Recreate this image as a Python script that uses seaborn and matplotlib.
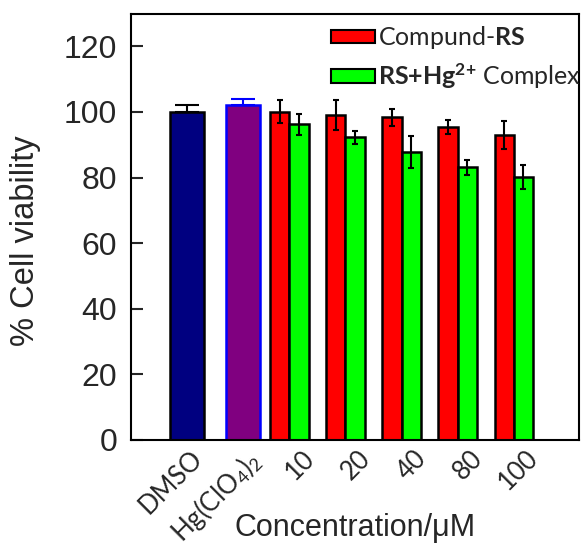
import matplotlib
matplotlib.use('Agg')
import matplotlib.pyplot as plt
from matplotlib.patches import Patch
import matplotlib.transforms as mtransforms
import numpy as np
import pandas as pd
import seaborn as sns

# data
categories = ['DMSO', 'Hg(ClO$_4$)$_2$', '10', '20', '40', '80', '100']
control_vals = [100.0, 102.2]
control_err = [2.0, 1.7]
rs_vals = [100.0, 99.0, 98.4, 95.4, 92.9]
rs_err = [3.5, 4.5, 2.6, 2.1, 4.3]
complex_vals = [96.2, 92.3, 87.8, 83.1, 80.1]
complex_err = [3.3, 2.0, 4.8, 2.2, 3.7]

sns.set_style('ticks')
plt.rcParams['font.family'] = ['Liberation Sans', 'DejaVu Sans']
plt.rcParams['mathtext.fontset'] = 'custom'
plt.rcParams['mathtext.rm'] = 'Lato'
plt.rcParams['mathtext.it'] = 'Lato:italic'
plt.rcParams['mathtext.bf'] = 'Lato:bold'

fig = plt.figure(figsize=(5.82, 5.43), dpi=100)
ax = fig.add_axes([0.225, 0.19, 0.77, 0.785])

pos = np.arange(len(categories))
bw = 0.34

# control bars
ctrl = pd.DataFrame({'pos': pos[:2], 'val': control_vals, 'label': categories[:2]})
sns.barplot(data=ctrl, x='pos', y='val', hue='label', palette=['#000080', '#800080'],
            saturation=1, native_scale=True, width=0.6, errorbar=None, legend=False,
            edgecolor='black', linewidth=1.8, ax=ax)
ax.patches[1].set_edgecolor('#0000ff')

# compound RS and complex bars
rs = pd.DataFrame({'pos': pos[2:] - bw, 'val': rs_vals})
cx = pd.DataFrame({'pos': pos[2:], 'val': complex_vals})
sns.barplot(data=rs, x='pos', y='val', color='#ff0000', saturation=1, native_scale=True,
            width=bw, errorbar=None, edgecolor='black', linewidth=1.8, ax=ax)
sns.barplot(data=cx, x='pos', y='val', color='#00ff00', saturation=1, native_scale=True,
            width=bw, errorbar=None, edgecolor='black', linewidth=1.8, ax=ax)

# error bars
ax.errorbar(pos[0], control_vals[0], yerr=[[0], [control_err[0]]], fmt='none',
            ecolor='black', elinewidth=1.5, capsize=8.5, capthick=1.5)
ax.errorbar(pos[1], control_vals[1], yerr=[[0], [control_err[1]]], fmt='none',
            ecolor='#0000ff', elinewidth=1.5, capsize=8.5, capthick=1.5)
ax.errorbar(rs['pos'], rs_vals, yerr=rs_err, fmt='none', ecolor='black',
            elinewidth=1.5, capsize=2.5, capthick=1.5)
ax.errorbar(cx['pos'], complex_vals, yerr=complex_err, fmt='none', ecolor='black',
            elinewidth=1.5, capsize=2.5, capthick=1.5)

ax.set_xlim(-1, 7)
ax.set_ylim(0, 130)
ax.set_yticks([0, 20, 40, 60, 80, 100, 120])
ax.tick_params(axis='y', direction='in', length=8.5, width=1.5, labelsize=23, pad=10)
ax.set_xticks(pos)
ax.set_xticklabels(categories, rotation=45, ha='right', va='top', rotation_mode='anchor',
                   fontsize=18.5, family='Lato')
ax.tick_params(axis='x', length=0, pad=4)
shift = mtransforms.ScaledTranslation(2 / 72, 0, fig.dpi_scale_trans)
for lab in ax.get_xticklabels():
    lab.set_transform(lab.get_transform() + shift)
for s in ax.spines.values():
    s.set_linewidth(1.5)
    s.set_color('black')

ax.set_ylabel('% Cell viability', fontsize=23.5)
ax.yaxis.set_label_coords(-0.2, 0.467)
ax.set_xlabel('Concentration/μM', fontsize=22)
ax.xaxis.set_label_coords(0.5, -0.172)

handles = [Patch(facecolor='#ff0000', edgecolor='black', linewidth=1.5),
           Patch(facecolor='#00ff00', edgecolor='black', linewidth=1.5)]
labels = ['Compund-$\\mathbf{RS}$', '$\\mathbf{RS{+}Hg^{2{+}}}$ Complex']
leg = ax.legend(handles, labels, loc='upper left', bbox_to_anchor=(0.447, 0.975),
                frameon=False, prop={'family': 'Lato', 'size': 18}, handlelength=1.75,
                handleheight=0.45, handletextpad=0.12, labelspacing=0.4, borderaxespad=0,
                borderpad=0)
# the reference cuts the legend text at the right spine
for t in leg.get_texts():
    t.set_clip_box(ax.bbox)
    t.set_clip_on(True)

fig.savefig('out.png', dpi=100)
